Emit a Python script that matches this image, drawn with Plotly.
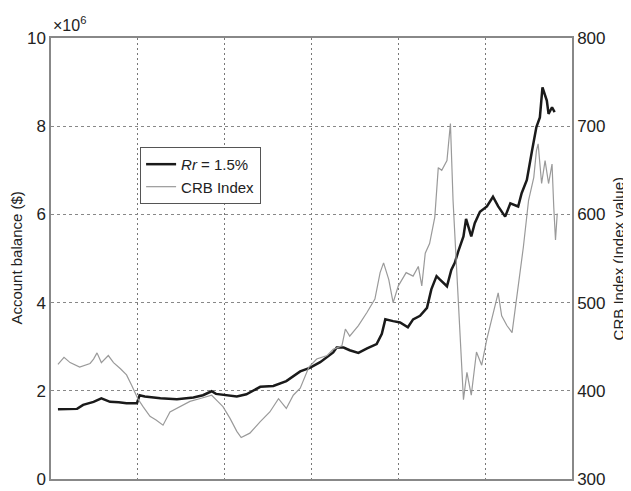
import plotly.graph_objects as go

# Account balance (millions of $), left axis
t_bal = [0.08, 0.30, 0.37, 0.49, 0.58, 0.68, 0.78, 0.87, 0.99, 1.02,
         1.08, 1.26, 1.45, 1.64, 1.75, 1.85, 1.90, 2.02, 2.14, 2.25,
         2.41, 2.56, 2.71, 2.87, 2.98, 3.10, 3.25, 3.29, 3.37, 3.44,
         3.54, 3.64, 3.75, 3.81, 3.85, 3.94, 4.02, 4.11, 4.17, 4.25,
         4.33, 4.38, 4.44, 4.48, 4.56, 4.61, 4.65, 4.69, 4.75, 4.78,
         4.81, 4.84, 4.88, 4.94, 5.02, 5.09, 5.15, 5.23, 5.29, 5.38,
         5.42, 5.48, 5.54, 5.59, 5.63, 5.66, 5.71, 5.73, 5.77, 5.80]
balance = [1.58, 1.59, 1.68, 1.75, 1.83, 1.75, 1.74, 1.72, 1.72, 1.90,
           1.87, 1.83, 1.81, 1.85, 1.90, 1.99, 1.93, 1.90, 1.87, 1.92,
           2.09, 2.11, 2.22, 2.44, 2.52, 2.65, 2.87, 2.98, 2.98, 2.92,
           2.86, 2.96, 3.06, 3.29, 3.62, 3.58, 3.55, 3.44, 3.62, 3.70,
           3.88, 4.30, 4.60, 4.52, 4.37, 4.74, 4.90, 5.16, 5.50, 5.90,
           5.68, 5.50, 5.80, 6.06, 6.18, 6.40, 6.18, 5.95, 6.25, 6.18,
           6.48, 6.78, 7.45, 7.98, 8.20, 8.88, 8.58, 8.28, 8.43, 8.32]

# CRB Index, right axis
t_crb = [0.08, 0.15, 0.22, 0.33, 0.45, 0.49, 0.53, 0.58, 0.66, 0.72,
         0.80, 0.87, 0.93, 1.00, 1.06, 1.14, 1.21, 1.29, 1.37, 1.48,
         1.60, 1.71, 1.85, 1.92, 1.98, 2.06, 2.14, 2.19, 2.29, 2.41,
         2.52, 2.62, 2.71, 2.79, 2.87, 2.97, 3.06, 3.18, 3.25, 3.35,
         3.39, 3.44, 3.54, 3.64, 3.73, 3.79, 3.83, 3.89, 3.94, 4.00,
         4.09, 4.17, 4.23, 4.27, 4.31, 4.36, 4.42, 4.46, 4.50, 4.56,
         4.60, 4.63, 4.67, 4.71, 4.75, 4.79, 4.84, 4.90, 4.96, 5.02,
         5.09, 5.15, 5.19, 5.25, 5.31, 5.35, 5.40, 5.44, 5.50, 5.56,
         5.59, 5.61, 5.65, 5.69, 5.73, 5.77, 5.79, 5.81, 5.83]
crb = [430, 438, 432, 427, 431, 436, 443, 432, 440, 432,
       425, 418, 406, 391, 382, 371, 367, 361, 376, 382,
       388, 391, 395, 388, 382, 369, 354, 347, 352, 365,
       376, 391, 380, 395, 403, 427, 436, 440, 447, 451,
       470, 462, 474, 489, 504, 534, 545, 526, 500, 519,
       534, 530, 541, 519, 556, 567, 597, 653, 650, 661,
       703, 616, 541, 466, 390, 421, 395, 444, 429, 459,
       489, 511, 485, 474, 466, 496, 534, 563, 616, 642,
       672, 680, 635, 661, 635, 657, 608, 571, 601]

left_ticks = [0, 2, 4, 6, 8, 10]
right_ticks = [300, 400, 500, 600, 700, 800]

FONT = "Liberation Sans Narrow, Liberation Sans, Arial, sans-serif"

fig = go.Figure()
fig.add_trace(go.Scatter(x=t_bal, y=balance, mode="lines", name="<i>Rr</i> = 1.5%",
                         line=dict(color="#1a1a1a", width=2.5), yaxis="y"))
fig.add_trace(go.Scatter(x=t_crb, y=crb, mode="lines", name="CRB Index",
                         line=dict(color="#9a9a9a", width=1.2), yaxis="y2"))

# page body has an 8px default margin, so the figure is offset by 8px
fig.update_layout(
    width=623, height=483,
    margin=dict(l=43, r=59, t=30, b=12, autoexpand=False),
    paper_bgcolor="white", plot_bgcolor="white",
    font=dict(family=FONT, size=16, color="#222"),
    showlegend=True,
    legend=dict(x=0.171, y=0.753, xanchor="left", yanchor="top",
                bordercolor="#555", borderwidth=1, bgcolor="white",
                font=dict(size=15, family=FONT), tracegroupgap=0),
    xaxis=dict(range=[0, 6], dtick=1, tick0=0, showticklabels=False, ticks="",
               showgrid=True, gridcolor="#777", griddash="2px,3px", gridwidth=1,
               showline=True, linecolor="#888", linewidth=1.5, mirror=True,
               zeroline=False),
    yaxis=dict(range=[0, 10], tickvals=left_ticks, ticks="",
               showgrid=True, gridcolor="#888", griddash="3px,3px", gridwidth=1,
               showline=True, linecolor="#888", linewidth=1.5,
               zeroline=False, tickfont=dict(size=17, family=FONT)),
    yaxis2=dict(range=[300, 800], tickvals=right_ticks, ticks="",
                overlaying="y", side="right", showgrid=False,
                showline=True, linecolor="#888", linewidth=1.5,
                zeroline=False, tickfont=dict(size=17, family=FONT)),
    annotations=[
        dict(text="×10<sup>6</sup>", xref="paper", yref="paper", x=0.0, y=1.0,
             xanchor="left", yanchor="bottom", showarrow=False,
             font=dict(size=16, family=FONT), yshift=2),
        dict(text="Account balance ($)", xref="paper", yref="paper",
             x=-0.067, y=0.5, textangle=-90, showarrow=False,
             xanchor="center", yanchor="middle", font=dict(size=15, family=FONT)),
        dict(text="CRB Index (Index value)", xref="paper", yref="paper",
             x=1.090, y=0.5, textangle=-90, showarrow=False,
             xanchor="center", yanchor="middle", font=dict(size=15, family=FONT)),
    ],
)

fig.write_html("out.html")
